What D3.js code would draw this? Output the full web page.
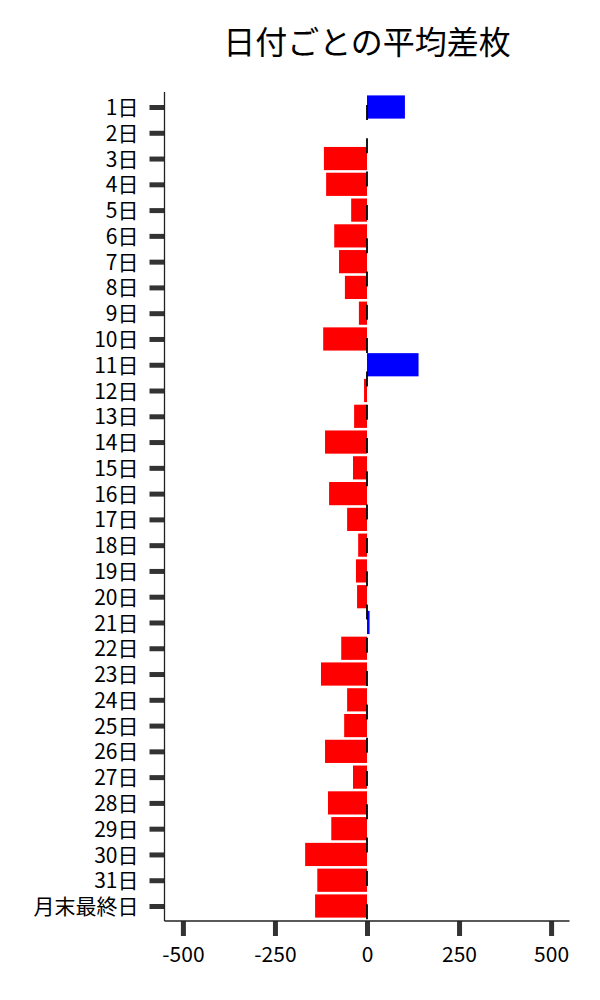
<!DOCTYPE html>
<html>
<head>
<meta charset="utf-8">
<script src="https://cdn.jsdelivr.net/npm/d3@7"></script>
<style>
  html, body { margin: 0; padding: 0; background: #fff; }
  svg { display: block; }
  text { font-family: "Noto Sans CJK JP", "Noto Sans", sans-serif; fill: #000; }
</style>
</head>
<body>
<svg id="chart" width="600" height="1000"></svg>
<script>
const title = "日付ごとの平均差枚";
const categories = ["1日","2日","3日","4日","5日","6日","7日","8日","9日","10日",
  "11日","12日","13日","14日","15日","16日","17日","18日","19日","20日",
  "21日","22日","23日","24日","25日","26日","27日","28日","29日","30日",
  "31日","月末最終日"];
const values = [103, 0, -117, -111, -43, -89, -76, -60, -22, -119,
  140, -8, -35, -114, -38, -103, -54, -24, -30, -27,
  7, -70, -125, -54, -62, -114, -38, -106, -97, -168,
  -135, -141];
const xTicks = [-500, -250, 0, 250, 500];
const xDomain = [-550, 550];

const svg = d3.select("#chart");
const mLeft = 164.5, mRight = 569.5, mTop = 92, mBottom = 921;

const x = d3.scaleLinear().domain(xDomain).range([mLeft, mRight]);
const y = d3.scalePoint().domain(categories).range([107, 906]);
const step = y.step();
const barH = step * 0.9;

// bars
svg.append("g").selectAll("rect").data(categories).join("rect")
  .attr("x", (d, i) => x(Math.min(0, values[i])))
  .attr("y", d => y(d) - barH / 2)
  .attr("width", (d, i) => Math.abs(x(values[i]) - x(0)))
  .attr("height", barH)
  .attr("fill", (d, i) => values[i] >= 0 ? "#0000ff" : "#ff0000");

// dashed zero line
svg.append("line")
  .attr("x1", x(0)).attr("x2", x(0))
  .attr("y1", 105).attr("y2", mBottom)
  .attr("stroke", "#000").attr("stroke-width", 1.8)
  .attr("stroke-dasharray", "15,18.3");

// y axis
const yAxis = d3.axisLeft(y).tickSize(15).tickPadding(11);
const gy = svg.append("g").attr("transform", `translate(${mLeft},0)`).call(yAxis);
gy.select(".domain").remove();
gy.selectAll(".tick line").attr("stroke", "#333").attr("stroke-width", 5);
gy.selectAll(".tick text").attr("font-size", 21).attr("dy", "0.36em")
  .attr("font-family", '"Noto Sans CJK JP", sans-serif').attr("fill", "#000");
svg.append("line").attr("x1", mLeft).attr("x2", mLeft).attr("y1", mTop).attr("y2", mBottom)
  .attr("stroke", "#222").attr("stroke-width", 1.3);

// x axis
const xAxis = d3.axisBottom(x).tickValues(xTicks).tickSize(15).tickPadding(11).tickFormat(d3.format("d"));
const gx = svg.append("g").attr("transform", `translate(0,${mBottom})`).call(xAxis);
gx.select(".domain").remove();
gx.selectAll(".tick line").attr("stroke", "#333").attr("stroke-width", 5);
gx.selectAll(".tick text").attr("font-size", 21)
  .attr("font-family", '"Noto Sans CJK JP", sans-serif').attr("fill", "#000")
  .text(d => String(d));
svg.append("line").attr("x1", mLeft).attr("x2", mRight).attr("y1", mBottom).attr("y2", mBottom)
  .attr("stroke", "#222").attr("stroke-width", 1.3);

// title
svg.append("text")
  .attr("x", (mLeft + mRight) / 2).attr("y", 54)
  .attr("text-anchor", "middle").attr("font-size", 32)
  .text(title);
</script>
</body>
</html>
